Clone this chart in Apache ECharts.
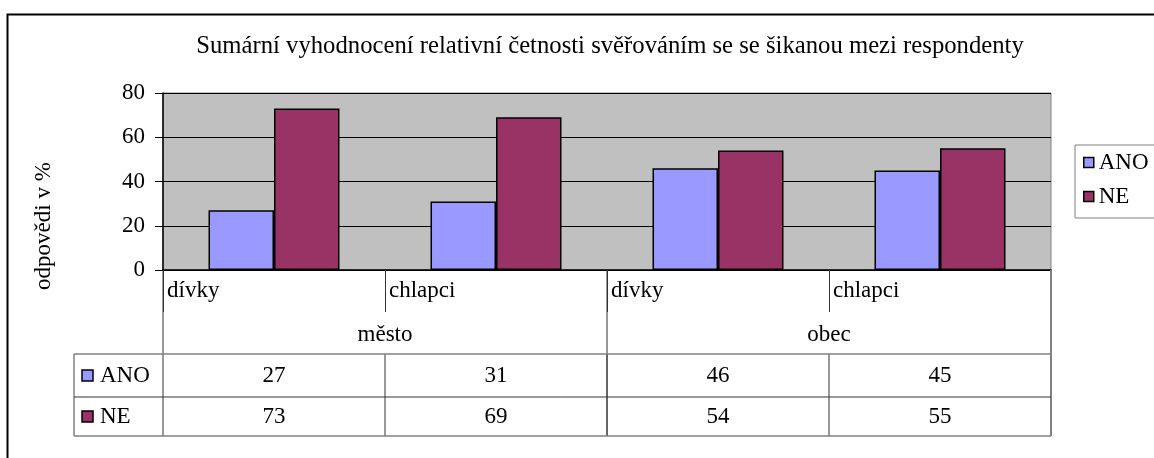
<!DOCTYPE html>
<html><head><meta charset="utf-8">
<script src="https://cdn.jsdelivr.net/npm/echarts@6/dist/echarts.min.js"></script>
<style>html,body{margin:0;padding:0;background:#fff}#c{width:1154px;height:458px}</style>
</head><body><div id="c"></div>
<script>
const titleText = 'Sumární vyhodnocení relativní četnosti svěřováním se se šikanou mezi respondenty';
const yAxisTitle = 'odpovědi v %';
const categories = ['dívky', 'chlapci', 'dívky', 'chlapci'];
const groups = ['město', 'obec'];
const seriesNames = ['ANO', 'NE'];
const anoValues = [27, 31, 46, 45];
const neValues = [73, 69, 54, 55];
const yMin = 0, yMax = 80, yStep = 20;
const colors = ['#9999FF', '#993366'];
const FONT = 'Liberation Serif';
const FS = 23;

const chart = echarts.init(document.getElementById('c'), null, {renderer: 'canvas'});
const seriesValues = [anoValues, neValues];

const option = {
  animation: false,
  backgroundColor: '#fff',
  title: {
    text: titleText, left: 610, top: 34, textAlign: 'center', padding: 0,
    textStyle: {fontFamily: FONT, fontSize: 24.7, fontWeight: 'normal', color: '#000'}
  },
  legend: {
    data: seriesNames, orient: 'vertical', left: 1075, top: 145,
    icon: 'rect', itemWidth: 10, itemHeight: 10, itemGap: 11,
    padding: [6, 40, 10, 8], borderColor: '#808080', borderWidth: 1,
    itemStyle: {borderColor: '#000', borderWidth: 1.5},
    textStyle: {fontFamily: FONT, fontSize: FS, color: '#000'}
  },
  grid: {left: 163, right: 103, top: 93, bottom: 188, show: true,
    backgroundColor: '#C0C0C0', borderColor: '#808080', borderWidth: 1},
  xAxis: {
    type: 'category', data: categories,
    axisLine: {lineStyle: {color: '#000', width: 1.5}},
    axisTick: {show: true, length: 42, lineStyle: {color: '#333', width: 1}},
    axisLabel: {
      interval: 0, margin: 9,
      formatter: v => '{a|' + v + '}',
      rich: {a: {width: 214, align: 'left', fontFamily: FONT, fontSize: FS, color: '#000'}}
    }
  },
  yAxis: {
    type: 'value', min: yMin, max: yMax, interval: yStep,
    axisLine: {show: true, lineStyle: {color: '#000', width: 1.5}},
    axisTick: {show: true, length: 8, lineStyle: {color: '#000'}},
    axisLabel: {margin: 18, fontFamily: FONT, fontSize: FS, color: '#000'},
    splitLine: {lineStyle: {color: '#000', width: 1}}
  },
  series: seriesNames.map((n, i) => ({
    name: n, type: 'bar', data: seriesValues[i],
    barGap: '0%', barCategoryGap: '41%',
    itemStyle: {color: colors[i], borderColor: '#000', borderWidth: 1.5}
  }))
};
chart.setOption(option);

// Build data table and group labels from axis positions
const c0 = chart.convertToPixel({xAxisIndex: 0}, 0);
const c1 = chart.convertToPixel({xAxisIndex: 0}, 1);
const band = c1 - c0;
const xL = c0 - band / 2;
const xR = xL + band * categories.length;
const y0 = chart.convertToPixel({yAxisIndex: 0}, 0);
const yGroup = y0 + 65;
const yTop = y0 + 84;
const yMid = y0 + 127;
const yBot = y0 + 166;
const xTab = 74;
const g = [];
const line = (x1, y1, x2, y2, color, w) => g.push({type: 'line', silent: true, z: 10,
  shape: {x1, y1, x2, y2}, style: {stroke: color, lineWidth: w || 1}});
const txt = (x, y, t, align) => g.push({type: 'text', silent: true, z: 11, x, y,
  style: {text: t, fill: '#000', font: FS + 'px "' + FONT + '"', align: align || 'center', verticalAlign: 'middle'}});

// outer frame
g.push({type: 'rect', silent: true, z: 0, shape: {x: 7.5, y: 14.5, width: 1300, height: 600},
  style: {fill: null, stroke: '#000', lineWidth: 2}});

// vertical lines
line(xL, y0, xL, yBot, '#333', 1);
line(xR, y0, xR, yBot, '#808080', 2);
const perGroup = categories.length / groups.length;
for (let k = 1; k < groups.length; k++) {
  const x = xL + band * perGroup * k;
  line(x, y0, x, yBot, '#333', 1);
}
for (let i = 1; i < categories.length; i++) {
  const x = xL + band * i;
  line(x, yTop, x, yBot, '#333', 1);
}
line(xTab, yTop, xTab, yBot, '#808080', 1.5);
// horizontal lines
line(xTab, yTop, xR, yTop, '#808080', 1.5);
line(xTab, yMid, xR, yMid, '#333', 1);
line(xTab, yBot, xR, yBot, '#808080', 1.5);

// group labels
groups.forEach((gname, k) => {
  txt(xL + band * perGroup * (k + 0.5), yGroup, gname);
});
// table rows
const rowsY = [(yTop + yMid) / 2, (yMid + yBot) / 2];
seriesNames.forEach((n, r) => {
  const cy = rowsY[r];
  g.push({type: 'rect', silent: true, z: 11, shape: {x: 82, y: cy - 5.5, width: 11, height: 11},
    style: {fill: colors[r], stroke: '#000', lineWidth: 1.5}});
  txt(100, cy, n, 'left');
  seriesValues[r].forEach((v, i) => {
    txt(chart.convertToPixel({xAxisIndex: 0}, i), cy, String(v));
  });
});
// y axis title
g.push({type: 'text', silent: true, z: 11, x: 44, y: 226, rotation: Math.PI / 2,
  style: {text: yAxisTitle, fill: '#000', font: FS + 'px "' + FONT + '"', align: 'center', verticalAlign: 'middle'}});

chart.setOption({graphic: g});
</script></body></html>
